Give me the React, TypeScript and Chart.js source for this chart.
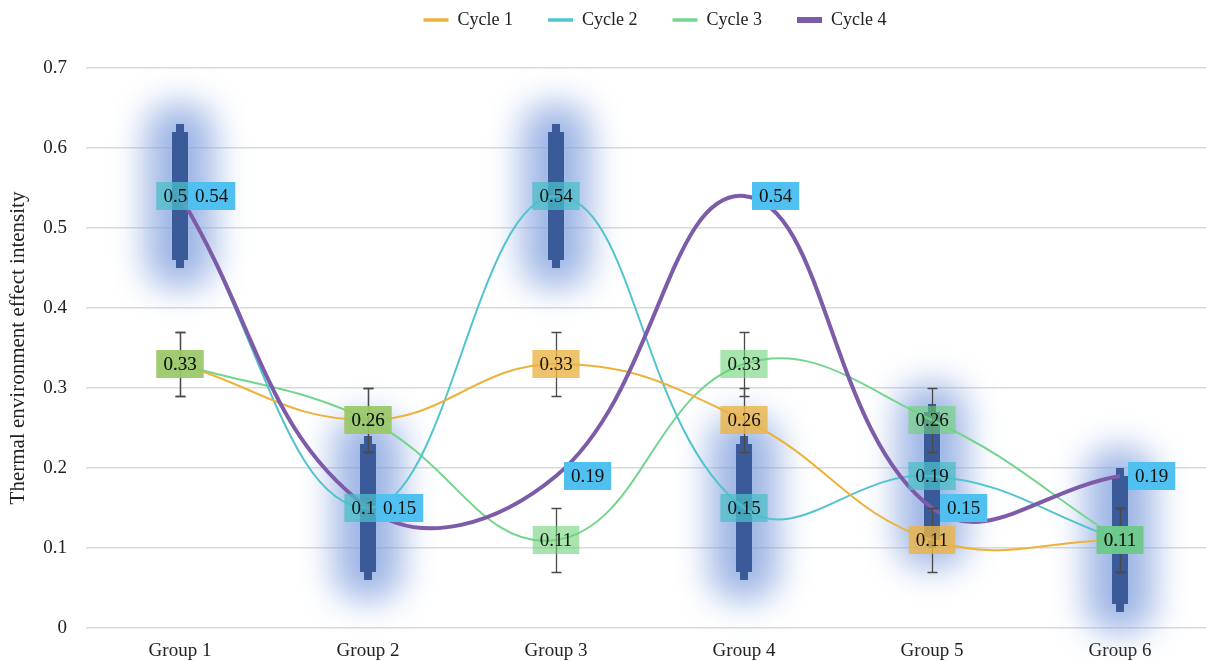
import React, { useEffect, useRef } from 'react';
import { Chart, registerables } from 'chart.js';

Chart.register(...registerables);

// ---------- data ----------
const categories = ['Group 1', 'Group 2', 'Group 3', 'Group 4', 'Group 5', 'Group 6'];
const seriesNames = ['Cycle 1', 'Cycle 2', 'Cycle 3', 'Cycle 4'];
const cycle1 = [0.33, 0.26, 0.33, 0.26, 0.11, 0.11];
const cycle2 = [0.54, 0.15, 0.54, 0.15, 0.19, 0.11];
const cycle3 = [0.33, 0.26, 0.11, 0.33, 0.26, 0.11];
const cycle4 = [0.54, 0.15, 0.19, 0.54, 0.15, 0.19];
// error amounts
const cycle1Err = [0.04, 0.04, 0.04, 0.04, 0.04, 0.04];
const cycle3Err = [0.04, 0.04, 0.04, 0.04, 0.04, 0.04];
const cycle2ErrOuter = [0.09, 0.09, 0.09, 0.09, 0.09, 0.09];
const cycle2ErrInner = [0.08, 0.08, 0.08, 0.08, 0.08, 0.08];
const yMin = 0;
const yMax = 0.7;
const yStep = 0.1;
const yTitle = 'Thermal environment effect intensity';

// ---------- styles ----------
const FONT = "'Liberation Serif', 'Times New Roman', serif";
const lineColors = ['#EEB23C', '#52C4CE', '#74D68E', '#7D5BA8'];
const lineWidths = [2, 2, 2, 4];
const legendLineWidths = [3.5, 3.5, 3.5, 6];
const labelFills = [
  'rgba(235,180,70,0.8)',
  'rgba(75,190,200,0.75)',
  'rgba(110,210,120,0.6)',
  '#4FC0F0',
];

function roundRectPath(ctx: CanvasRenderingContext2D, x: number, y: number, w: number, h: number, r: number) {
  ctx.beginPath();
  ctx.moveTo(x + r, y);
  ctx.lineTo(x + w - r, y);
  ctx.quadraticCurveTo(x + w, y, x + w, y + r);
  ctx.lineTo(x + w, y + h - r);
  ctx.quadraticCurveTo(x + w, y + h, x + w - r, y + h);
  ctx.lineTo(x + r, y + h);
  ctx.quadraticCurveTo(x, y + h, x, y + h - r);
  ctx.lineTo(x, y + r);
  ctx.quadraticCurveTo(x, y, x + r, y);
  ctx.closePath();
}

const overlayPlugin = {
  id: 'overlay',
  afterLayout(chart: any) {
    const l = chart.legend;
    if (l) {
      const dx = 48;
      const dy = -29;
      l.left += dx;
      l.right += dx;
      l.top += dy;
      l.bottom += dy;
    }
  },
  beforeDatasetsDraw(chart: any) {
    const { ctx } = chart;
    const y = chart.scales.y;
    const meta = chart.getDatasetMeta(1);
    ctx.save();
    // glow
    meta.data.forEach((pt: any, i: number) => {
      const v = cycle2[i];
      const top = y.getPixelForValue(v + cycle2ErrOuter[i]);
      const bot = y.getPixelForValue(v - cycle2ErrOuter[i]);
      ctx.filter = 'blur(17px)';
      ctx.fillStyle = 'rgba(130,160,222,0.78)';
      roundRectPath(ctx, pt.x - 34, top - 20, 68, bot - top + 40, 30);
      ctx.fill();
    });
    ctx.filter = 'none';
    // dark blue bars
    ctx.fillStyle = '#3B5A9A';
    meta.data.forEach((pt: any, i: number) => {
      const v = cycle2[i];
      const oTop = y.getPixelForValue(v + cycle2ErrOuter[i]);
      const oBot = y.getPixelForValue(v - cycle2ErrOuter[i]);
      const iTop = y.getPixelForValue(v + cycle2ErrInner[i]);
      const iBot = y.getPixelForValue(v - cycle2ErrInner[i]);
      ctx.fillRect(pt.x - 4, oTop, 8, oBot - oTop);
      ctx.fillRect(pt.x - 8, iTop, 16, iBot - iTop);
    });
    ctx.restore();
  },
  afterDatasetsDraw(chart: any) {
    const { ctx } = chart;
    const y = chart.scales.y;
    ctx.save();
    // thin black error bars (Cycle 1 and Cycle 3)
    const errSets: [number, number[], number[]][] = [
      [0, cycle1, cycle1Err],
      [2, cycle3, cycle3Err],
    ];
    ctx.strokeStyle = '#4a4a4a';
    ctx.lineWidth = 1.3;
    errSets.forEach(([di, vals, errs]) => {
      const meta = chart.getDatasetMeta(di);
      meta.data.forEach((pt: any, i: number) => {
        const t = Math.round(y.getPixelForValue(vals[i] + errs[i])) + 0.5;
        const b = Math.round(y.getPixelForValue(vals[i] - errs[i])) + 0.5;
        const x = Math.round(pt.x) + 0.5;
        ctx.beginPath();
        ctx.moveTo(x, t);
        ctx.lineTo(x, b);
        ctx.moveTo(x - 5, t);
        ctx.lineTo(x + 5, t);
        ctx.moveTo(x - 5, b);
        ctx.lineTo(x + 5, b);
        ctx.stroke();
      });
    });
    // data labels
    ctx.font = `19px ${FONT}`;
    ctx.textBaseline = 'middle';
    ctx.textAlign = 'center';
    const h = 28;
    chart.data.datasets.forEach((ds: any, di: number) => {
      const meta = chart.getDatasetMeta(di);
      meta.data.forEach((pt: any, i: number) => {
        const txt = Number(ds.data[i]).toFixed(2);
        const tw = ctx.measureText(txt).width;
        const w = tw + 14;
        let left = pt.x - w / 2;
        if (di === 3) left = pt.x + 8;
        const top = pt.y - h / 2;
        ctx.fillStyle = labelFills[di];
        ctx.fillRect(left, top, w, h);
        ctx.fillStyle = '#111';
        ctx.fillText(txt, left + w / 2, pt.y + 1);
      });
    });
    ctx.restore();
  },
};

export default function App() {
  const canvasRef = useRef<HTMLCanvasElement | null>(null);

  useEffect(() => {
    document.body.style.margin = '0';
    const canvas = canvasRef.current;
    if (!canvas) return;
    const allData = [cycle1, cycle2, cycle3, cycle4];
    const chart = new Chart(canvas, {
      type: 'line',
      data: {
        labels: categories,
        datasets: seriesNames.map((name, i) => ({
          label: name,
          data: allData[i],
          borderColor: lineColors[i],
          backgroundColor: lineColors[i],
          borderWidth: lineWidths[i],
          pointRadius: 0,
          pointHoverRadius: 0,
          tension: 0.42,
          fill: false,
          order: i === 3 ? 0 : 1,
        })),
      },
      options: {
        responsive: false,
        animation: false,
        devicePixelRatio: 1,
        layout: { padding: { top: 5, left: 0, right: 0, bottom: 0 } },
        plugins: {
          legend: {
            position: 'top',
            labels: {
              usePointStyle: true,
              pointStyle: 'line',
              pointStyleWidth: 25,
              padding: 35,
              color: '#222',
              font: { size: 18, family: FONT },
              sort: (a: any, b: any) => a.datasetIndex - b.datasetIndex,
              generateLabels: (chart: any) => {
                const items = Chart.defaults.plugins.legend.labels.generateLabels(chart);
                return items.map((it: any) => ({ ...it, lineWidth: legendLineWidths[it.datasetIndex] }));
              },
            },
          },
          tooltip: { enabled: false },
        },
        scales: {
          x: {
            offset: true,
            grid: { display: false, drawTicks: false },
            border: { display: false },
            ticks: { color: '#222', padding: 12, font: { size: 19, family: FONT } },
            afterFit: (s: any) => {
              s.height = 33;
            },
          },
          y: {
            min: yMin,
            max: yMax,
            grid: { color: '#DADADA', lineWidth: 1.5, drawTicks: false },
            border: { display: false },
            ticks: {
              stepSize: yStep,
              padding: 19,
              color: '#222',
              font: { size: 19, family: FONT },
              callback: (v: any) => String(Number(Number(v).toFixed(1))),
            },
            title: {
              display: true,
              text: yTitle,
              color: '#222',
              font: { size: 21, family: FONT },
              padding: { top: 6, bottom: 0 },
            },
            afterFit: (s: any) => {
              s.width = 86;
            },
          },
        },
      },
      plugins: [overlayPlugin],
    });
    return () => chart.destroy();
  }, []);

  return (
    <div style={{ position: 'fixed', left: 0, top: 0, width: 1206, height: 661, overflow: 'hidden', background: '#fff' }}>
      <canvas ref={canvasRef} width={1214} height={661} style={{ width: 1214, height: 661, display: 'block' }} />
    </div>
  );
}
